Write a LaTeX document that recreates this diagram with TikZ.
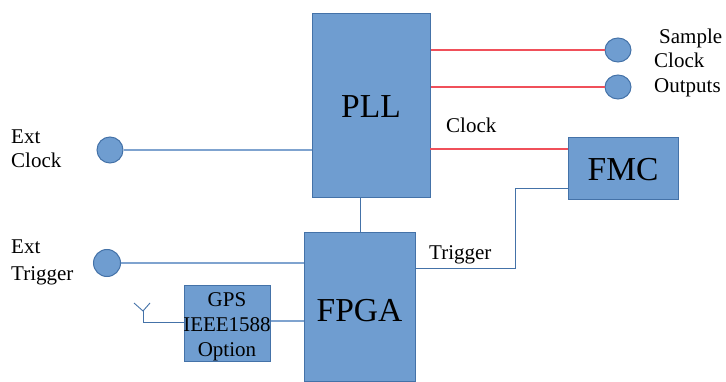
\documentclass[tikz,border=0pt]{standalone}
\usepackage{fontspec}
\setmainfont{Liberation Serif}
\definecolor{fillb}{HTML}{6F9DD0}
\definecolor{edgeb}{HTML}{4472A8}
\definecolor{lineb}{HTML}{7FA3CF}
\definecolor{redl}{HTML}{F0505A}
\usetikzlibrary{shapes.geometric}
\tikzset{
  x=1pt,y=-1pt,
  blockbox/.style={draw=edgeb,fill=fillb,line width=1pt,inner sep=0pt,anchor=north west},
  port/.style={draw=edgeb,fill=fillb,line width=1pt,ellipse,inner sep=0pt},
  wire/.style={draw=lineb,line width=1.1pt},
  redwire/.style={draw=redl,line width=1.5pt},
  darkwire/.style={draw=edgeb,line width=0.9pt},
  lbl/.style={inner sep=0pt,anchor=base west,font=\fontsize{21}{21}\selectfont,text=black},
  big/.style={font=\fontsize{33.5}{34}\selectfont,text=black},
}
\begin{document}
\begin{tikzpicture}
\useasboundingbox (0,0) rectangle (726,382);
\node[blockbox,minimum width=118pt,minimum height=184pt] (pll) at (312,13) {};
\node[blockbox,minimum width=111pt,minimum height=149pt] (fpga) at (304,232) {};
\node[blockbox,minimum width=110pt,minimum height=62pt] (fmc) at (568,137) {};
\node[blockbox,minimum width=86pt,minimum height=76pt] (gps) at (184,285) {};
\node[port,minimum width=26pt,minimum height=26pt] (extc) at (110,150) {};
\node[port,minimum width=27pt,minimum height=27pt] (extt) at (107,263) {};
\node[port,minimum width=26pt,minimum height=24pt] (s1) at (618,50) {};
\node[port,minimum width=26pt,minimum height=24pt] (s2) at (618,87) {};
\coordinate (ant) at (143,311);
\coordinate (antl) at (134,303);
\coordinate (antr) at (150,303);
\coordinate (antb) at (143,322);
\coordinate (tr1) at (515,268);
\coordinate (tr2) at (515,188);
\coordinate (clk) at (430,149);
% connectors
\draw[wire] (extc) -- (pll.west |- extc);
\draw[wire] (extt) -- (fpga.west |- extt);
\draw[darkwire] (pll.south -| 360.5,0) -- (fpga.north -| 360.5,0);
\draw[wire] (gps.east |- 0,321) -- (fpga.west |- 0,321);
\draw[redwire] (pll.east |- s1) -- (s1);
\draw[redwire] (pll.east |- s2) -- (s2);
\draw[redwire] (clk) -- (fmc.west |- clk);
\draw[darkwire] (fpga.east |- tr1) -- (tr1) -- (tr2) -- (fmc.west |- tr2);
\draw[darkwire] (antl) -- (ant) -- (antr);
\draw[darkwire] (ant) -- (antb) -- (gps.west |- antb);
% texts
\node[big,anchor=base] (tpll) at (371,118) {PLL};
\node[big,anchor=base] (tfpga) at (359.5,321) {FPGA};
\node[big,anchor=base] (tfmc) at (623,181) {FMC};
\node[lbl] (t1) at (11,144) {Ext};
\node[lbl] (t2) at (11,168) {Clock};
\node[lbl] (t3) at (11,254) {Ext};
\node[lbl] (t4) at (11,280) {Trigger};
\node[lbl] (t5) at (659,44) {Sample};
\node[lbl] (t6) at (654,68) {Clock};
\node[lbl] (t7) at (654,93) {Outputs};
\node[lbl] (t8) at (446,133) {Clock};
\node[lbl] (t9) at (429,260) {Trigger};
\node[lbl,anchor=base] (g1) at (227,307) {GPS};
\node[lbl,anchor=base] (g2) at (227,331) {IEEE1588};
\node[lbl,anchor=base] (g3) at (227,356) {Option};
\end{tikzpicture}
\end{document}
